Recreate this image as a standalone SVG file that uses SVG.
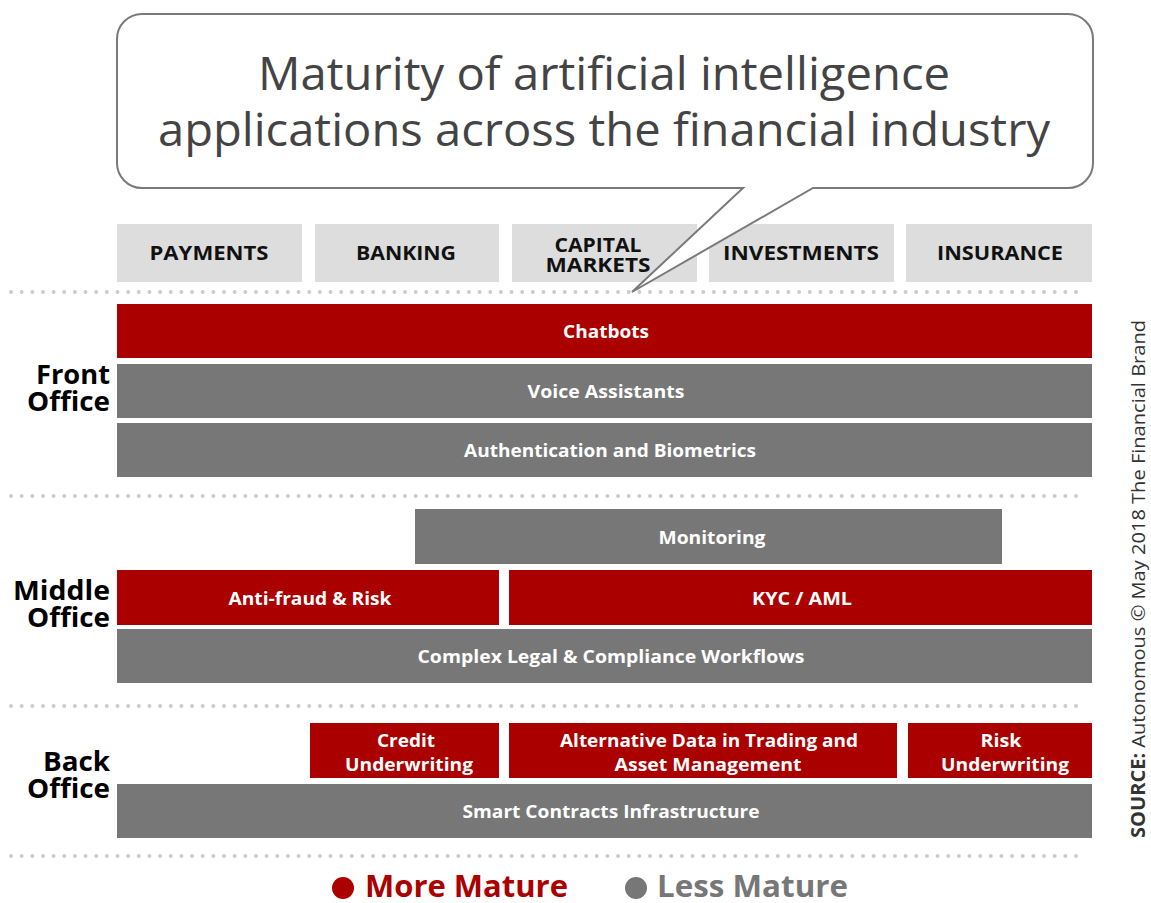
<svg xmlns="http://www.w3.org/2000/svg" width="1151" height="903" viewBox="0 0 1151 903">
  <style>
    .hdr { fill: #dddddd; }
    .hdr-t { font-family: "Open Sans", "DejaVu Sans", sans-serif; font-weight: 700; font-size: 20px; fill: #111111; text-anchor: middle; }
    .red { fill: #ab0000; }
    .grey { fill: #777777; }
    .bar-t { font-family: "Open Sans", "DejaVu Sans", sans-serif; font-weight: 700; font-size: 17px; fill: #ffffff; text-anchor: middle; }
    .side { font-family: "Open Sans", "DejaVu Sans", sans-serif; font-weight: 700; font-size: 26px; fill: #000000; text-anchor: end; }
    .dots { stroke: #cccccc; stroke-width: 4; stroke-linecap: round; stroke-dasharray: 0 10.65; fill: none; }
    .title { font-family: "Open Sans", "DejaVu Sans", sans-serif; font-size: 46px; fill: #444444; text-anchor: middle; }
    .legend { font-family: "Open Sans", "DejaVu Sans", sans-serif; font-weight: 700; font-size: 30px; }
    .src { font-family: "Open Sans", "DejaVu Sans", sans-serif; font-size: 19px; fill: #333333; }
  </style>

  <rect width="1151" height="903" fill="#ffffff"/>

  <!-- column headers -->
  <g id="col-payments">
    <rect class="hdr" x="117" y="224" width="185" height="58"/>
    <text class="hdr-t" x="209" y="260" textLength="119" lengthAdjust="spacingAndGlyphs">PAYMENTS</text>
  </g>
  <g id="col-banking">
    <rect class="hdr" x="315" y="224" width="184" height="58"/>
    <text class="hdr-t" x="406" y="260" textLength="100" lengthAdjust="spacingAndGlyphs">BANKING</text>
  </g>
  <g id="col-capital-markets">
    <rect class="hdr" x="512" y="224" width="185" height="58"/>
    <text class="hdr-t" x="598" y="252" textLength="87" lengthAdjust="spacingAndGlyphs">CAPITAL</text>
    <text class="hdr-t" x="598" y="272" textLength="105" lengthAdjust="spacingAndGlyphs">MARKETS</text>
  </g>
  <g id="col-investments">
    <rect class="hdr" x="709" y="224" width="185" height="58"/>
    <text class="hdr-t" x="801" y="260" textLength="156" lengthAdjust="spacingAndGlyphs">INVESTMENTS</text>
  </g>
  <g id="col-insurance">
    <rect class="hdr" x="906" y="224" width="186" height="58"/>
    <text class="hdr-t" x="1000" y="260" textLength="126" lengthAdjust="spacingAndGlyphs">INSURANCE</text>
  </g>

  <!-- title speech bubble -->
  <g id="title-bubble">
    <path d="M142,14 H1068 A25,25 0 0 1 1093,39 V163 A25,25 0 0 1 1068,188 H813 L632,292 L743,188 H142 A25,25 0 0 1 117,163 V39 A25,25 0 0 1 142,14 Z" fill="#ffffff" stroke="#7a7a7a" stroke-width="2" stroke-linejoin="miter"/>
    <text class="title" x="604" y="90" textLength="692" lengthAdjust="spacingAndGlyphs">Maturity of artificial intelligence</text>
    <text class="title" x="604" y="146" textLength="892" lengthAdjust="spacingAndGlyphs">applications across the financial industry</text>
  </g>

  <!-- dotted separators -->
  <g id="separators">
    <line class="dots" x1="11" y1="292" x2="1086" y2="292"/>
    <line class="dots" x1="11" y1="496" x2="1086" y2="496"/>
    <line class="dots" x1="11" y1="706" x2="1086" y2="706"/>
    <line class="dots" x1="11" y1="856" x2="1086" y2="856"/>
  </g>

  <!-- front office -->
  <g id="label-front-office">
    <text class="side" x="110" y="384" textLength="74" lengthAdjust="spacingAndGlyphs">Front</text>
    <text class="side" x="110" y="411" textLength="83" lengthAdjust="spacingAndGlyphs">Office</text>
  </g>
  <g id="chatbots">
    <rect class="red" x="117" y="304" width="975" height="54"/>
    <text class="bar-t" x="606" y="338" textLength="86" lengthAdjust="spacingAndGlyphs">Chatbots</text>
  </g>
  <g id="voice-assistants">
    <rect class="grey" x="117" y="364" width="975" height="54"/>
    <text class="bar-t" x="606" y="398" textLength="157" lengthAdjust="spacingAndGlyphs">Voice Assistants</text>
  </g>
  <g id="authentication">
    <rect class="grey" x="117" y="423" width="975" height="54"/>
    <text class="bar-t" x="610" y="457" textLength="292" lengthAdjust="spacingAndGlyphs">Authentication and Biometrics</text>
  </g>

  <!-- middle office -->
  <g id="label-middle-office">
    <text class="side" x="110" y="600" textLength="97" lengthAdjust="spacingAndGlyphs">Middle</text>
    <text class="side" x="110" y="627" textLength="83" lengthAdjust="spacingAndGlyphs">Office</text>
  </g>
  <g id="monitoring">
    <rect class="grey" x="415" y="509" width="587" height="55"/>
    <text class="bar-t" x="712" y="544" textLength="107" lengthAdjust="spacingAndGlyphs">Monitoring</text>
  </g>
  <g id="anti-fraud">
    <rect class="red" x="117" y="570" width="382" height="55"/>
    <text class="bar-t" x="310" y="605" textLength="163" lengthAdjust="spacingAndGlyphs">Anti-fraud &amp; Risk</text>
  </g>
  <g id="kyc-aml">
    <rect class="red" x="509" y="570" width="583" height="55"/>
    <text class="bar-t" x="802" y="605" textLength="100" lengthAdjust="spacingAndGlyphs">KYC / AML</text>
  </g>
  <g id="legal-compliance">
    <rect class="grey" x="117" y="629" width="975" height="54"/>
    <text class="bar-t" x="611" y="663" textLength="387" lengthAdjust="spacingAndGlyphs">Complex Legal &amp; Compliance Workflows</text>
  </g>

  <!-- back office -->
  <g id="label-back-office">
    <text class="side" x="110" y="771" textLength="67" lengthAdjust="spacingAndGlyphs">Back</text>
    <text class="side" x="110" y="798" textLength="83" lengthAdjust="spacingAndGlyphs">Office</text>
  </g>
  <g id="credit-underwriting">
    <rect class="red" x="310" y="723" width="189" height="55"/>
    <text class="bar-t" x="406" y="747" textLength="58" lengthAdjust="spacingAndGlyphs">Credit</text>
    <text class="bar-t" x="409" y="771" textLength="128" lengthAdjust="spacingAndGlyphs">Underwriting</text>
  </g>
  <g id="alternative-data">
    <rect class="red" x="509" y="723" width="388" height="55"/>
    <text class="bar-t" x="709" y="747" textLength="298" lengthAdjust="spacingAndGlyphs">Alternative Data in Trading and</text>
    <text class="bar-t" x="708" y="771" textLength="187" lengthAdjust="spacingAndGlyphs">Asset Management</text>
  </g>
  <g id="risk-underwriting">
    <rect class="red" x="908" y="723" width="184" height="55"/>
    <text class="bar-t" x="1001" y="747" textLength="41" lengthAdjust="spacingAndGlyphs">Risk</text>
    <text class="bar-t" x="1005" y="771" textLength="128" lengthAdjust="spacingAndGlyphs">Underwriting</text>
  </g>
  <g id="smart-contracts">
    <rect class="grey" x="117" y="784" width="975" height="54"/>
    <text class="bar-t" x="611" y="818" textLength="297" lengthAdjust="spacingAndGlyphs">Smart Contracts Infrastructure</text>
  </g>

  <!-- legend -->
  <g id="legend">
    <circle cx="343" cy="888" r="11" fill="#ab0000"/>
    <text class="legend" x="365" y="897" fill="#ab0000" textLength="203" lengthAdjust="spacingAndGlyphs">More Mature</text>
    <circle cx="636" cy="888" r="11" fill="#777777"/>
    <text class="legend" x="657" y="897" fill="#777777" textLength="191" lengthAdjust="spacingAndGlyphs">Less Mature</text>
  </g>

  <!-- source credit -->
  <g id="source">
    <text class="src" transform="translate(1145,838) rotate(-90)" textLength="518" lengthAdjust="spacingAndGlyphs"><tspan font-weight="700">SOURCE:</tspan> Autonomous © May 2018 The Financial Brand</text>
  </g>
</svg>
